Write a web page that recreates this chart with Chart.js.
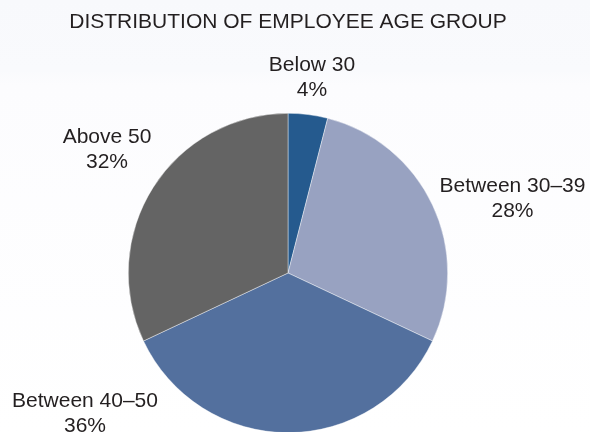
<!DOCTYPE html>
<html>
<head>
<meta charset="utf-8">
<script src="https://cdn.jsdelivr.net/npm/chart.js@4"></script>
<style>
  html, body { margin: 0; padding: 0; overflow: hidden; }
  body {
    width: 590px; height: 432px;
    background: linear-gradient(to bottom, #f8f9fc 0px, #f9fafd 70px, #fcfcfe 85px, #ffffff 432px);
  }
  #wrap { position: relative; width: 590px; height: 440px; }
</style>
</head>
<body>
<div id="wrap"><canvas id="chart"></canvas></div>
<script>
  // data
  const groups = ['Below 30', 'Between 30\u201339', 'Between 40\u201350', 'Above 50'];
  const shares = [4, 28, 36, 32];
  const colours = ['#255a8e', '#98a2c1', '#53709e', '#646464'];

  // where each label sits, relative to pie centre (px)
  const labelOffsets = [[24, -195.5], [224.5, -74.5], [-203, 140.5], [-181, -123.5]];

  const TEXT = '#231f20';
  const FONT = '"Liberation Sans", Arial, Helvetica, sans-serif';

  const sliceLabels = {
    id: 'sliceLabels',
    afterDraw(chart) {
      const ctx = chart.ctx;
      const arcs = chart.getDatasetMeta(0).data;
      ctx.save();
      ctx.fillStyle = TEXT;
      ctx.font = '21px ' + FONT;
      ctx.textAlign = 'center';
      ctx.textBaseline = 'middle';
      arcs.forEach((arc, i) => {
        const x = arc.x + labelOffsets[i][0];
        const y = arc.y + labelOffsets[i][1];
        ctx.fillText(groups[i], x, y - 12.75);
        ctx.fillText(shares[i] + '%', x, y + 12.75);
      });
      ctx.restore();
    }
  };

  new Chart(document.getElementById('chart'), {
    type: 'pie',
    data: {
      labels: groups,
      datasets: [{
        data: shares,
        backgroundColor: colours,
        borderColor: 'rgba(255,255,255,0.7)',
        borderWidth: 0.6
      }]
    },
    options: {
      responsive: true,
      maintainAspectRatio: false,
      animation: false,
      layout: { padding: { top: 0, bottom: 7, left: 0, right: 14 } },
      plugins: {
        legend: { display: false },
        tooltip: { enabled: false },
        title: {
          display: true,
          text: 'DISTRIBUTION OF EMPLOYEE AGE GROUP',
          color: TEXT,
          font: { family: FONT, size: 21, weight: 'normal', lineHeight: 1.2 },
          padding: { top: 10, bottom: 77.8 }
        }
      }
    },
    plugins: [sliceLabels]
  });
</script>
</body>
</html>
